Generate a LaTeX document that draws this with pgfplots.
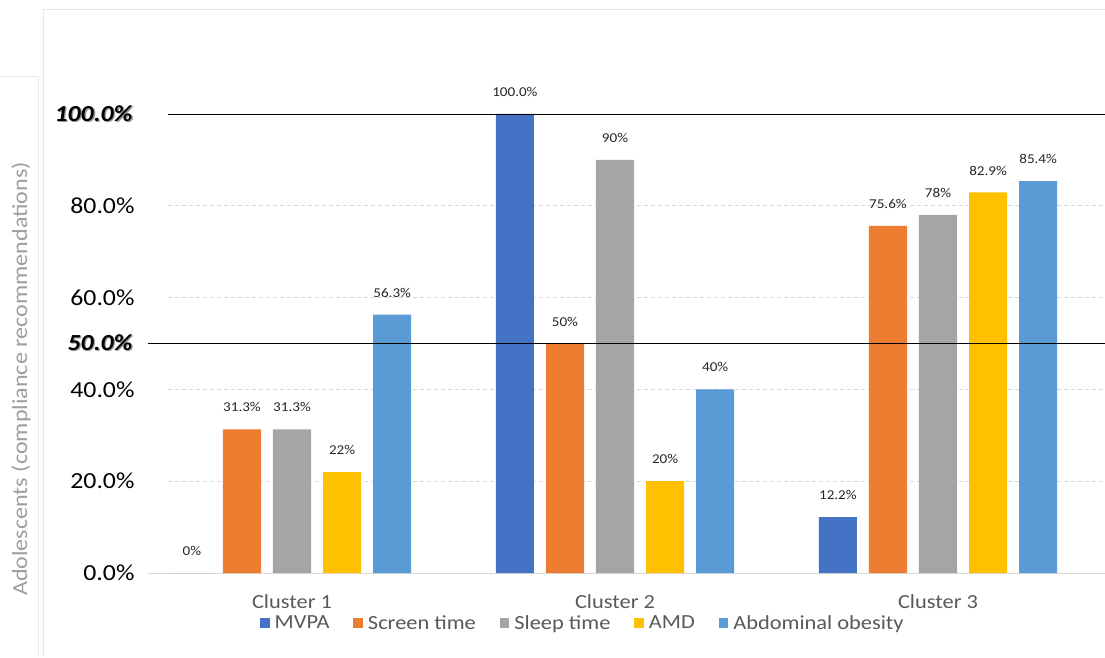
\documentclass[border=0pt]{standalone}
\usepackage{pgfplots}
\pgfplotsset{compat=1.18}
\usepackage{fontspec}
\setmainfont{Carlito}[FakeStretch=1.12]
\definecolor{cMVPA}{HTML}{4472C4}
\definecolor{cScreen}{HTML}{ED7D31}
\definecolor{cSleep}{HTML}{A5A5A5}
\definecolor{cAMD}{HTML}{FFC000}
\definecolor{cAO}{HTML}{5B9BD5}
\definecolor{gridc}{HTML}{D9D9D9}
\definecolor{txt}{HTML}{595959}
\newcommand\sh[1]{\makebox[0pt][l]{\hspace{1.3pt}\raisebox{-1.3pt}{\color{black!40}#1}}#1}
\begin{document}
\begin{tikzpicture}
\useasboundingbox (0,0) rectangle (1105pt,657pt);
\draw[black!10, line width=1pt] (43pt,0) -- (43pt,647pt) -- (1105pt,647pt);
\draw[black!8, line width=0.8pt] (0,581pt) -- (38pt,581pt) -- (38pt,0);
\node[rotate=90, font=\fontsize{21.5}{24}\selectfont, text=black!38] at (21pt,278pt) {Adolescents (compliance recommendations)};
\begin{axis}[
  at={(148pt,84pt)}, anchor=south west,
  scale only axis, width=957pt, height=459pt,
  xmin=-0.446, xmax=2.517, ymin=0, ymax=100,
  axis line style={draw=none},
  xtick={0,1,2}, xticklabels={Cluster 1,Cluster 2,Cluster 3},
  xticklabel style={font=\fontsize{20}{23}\selectfont, text=txt, yshift=-18pt},
  major tick length=0pt,
  ytick={0,20,40,60,80},
  yticklabels={0.0\%,20.0\%,40.0\%,60.0\%,80.0\%},
  yticklabel style={font=\fontsize{23}{26}\selectfont, text=black, xshift=-10pt},
  extra y ticks={50,100},
  extra y tick labels={\sh{\textbf{\textit{50.0\%}}},\sh{\textbf{\textit{100.0\%}}}},
  extra y tick style={yticklabel style={xshift=-2pt}},
  ybar, bar width=0.118,
  clip=false,
  point meta=explicit symbolic,
  nodes near coords,
  every node near coord/.append style={font=\fontsize{13.5}{15}\selectfont, text=black!85, anchor=center, yshift=22pt},
  legend style={at={(0.4545,-0.109)}, anchor=center, draw=none, fill=none,
    legend columns=5, font=\fontsize{20}{22}\selectfont, text=txt,
    /tikz/every odd column/.append style={column sep=3pt},
    /tikz/every even column/.append style={column sep=22pt}},
  legend image code/.code={\fill[#1] (0pt,-4.5pt) rectangle (9.5pt,5pt);},
]
\foreach \yy in {20,40,60,80} {
  \edef\temp{\noexpand\draw[gridc, dashed, dash pattern=on 4pt off 3pt, line width=0.8pt] (axis cs:-0.384,\yy) -- (axis cs:2.517,\yy);}
  \temp
}
\draw[gridc, line width=1pt] (axis cs:-0.446,0) -- (axis cs:2.517,0);
\addplot[fill=cMVPA, draw=none, bar shift=-0.31] coordinates {(0,0) [0\%] (1,100) [100.0\%] (2,12.2) [12.2\%]};
\addplot[fill=cScreen, draw=none, bar shift=-0.155] coordinates {(0,31.3) [31.3\%] (1,50) [50\%] (2,75.6) [75.6\%]};
\addplot[fill=cSleep, draw=none, bar shift=0] coordinates {(0,31.3) [31.3\%] (1,90) [90\%] (2,78) [78\%]};
\addplot[fill=cAMD, draw=none, bar shift=0.155] coordinates {(0,22) [22\%] (1,20) [20\%] (2,82.9) [82.9\%]};
\addplot[fill=cAO, draw=none, bar shift=0.31] coordinates {(0,56.3) [56.3\%] (1,40) [40\%] (2,85.4) [85.4\%]};
\legend{MVPA,Screen time,Sleep time,AMD,Abdominal obesity}
\draw[black, line width=0.9pt] (axis cs:-0.384,100) -- (axis cs:2.517,100);
\draw[black, line width=0.9pt] (axis cs:-0.446,50) -- (axis cs:2.517,50);
\end{axis}
\end{tikzpicture}
\end{document}
